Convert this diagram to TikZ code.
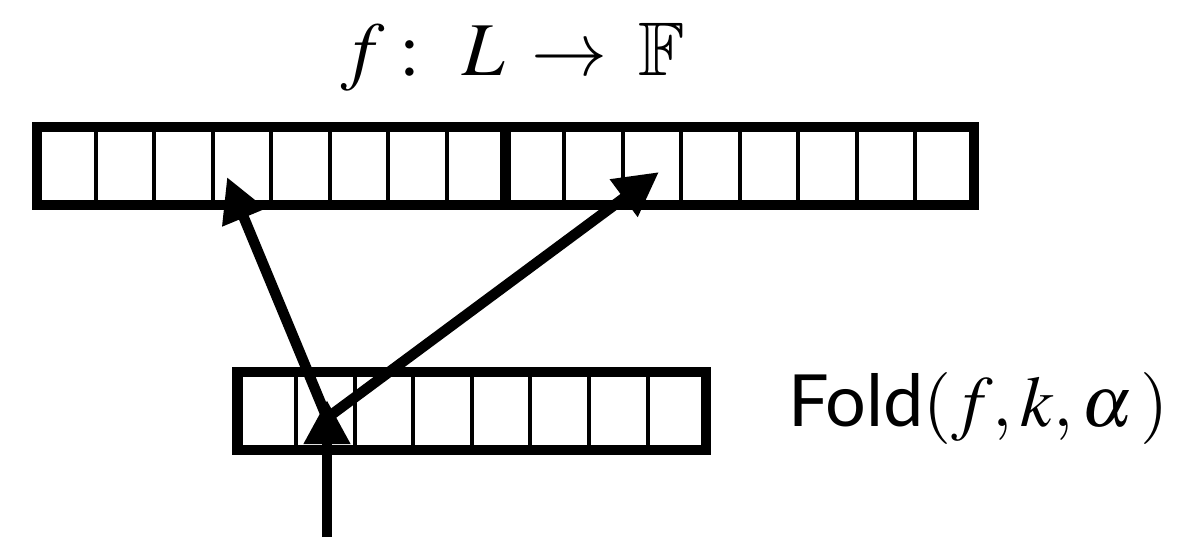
\documentclass[tikz,border=0pt]{standalone}
\usepackage{mathptmx}
\usepackage{amssymb}
\usepackage{graphicx}
\usepackage{fontspec}
\newfontfamily\foldfont{Lato}
\usetikzlibrary{arrows.meta,calc}
\begin{document}
\begin{tikzpicture}[x=0.5pt,y=-0.5pt,
  box/.style={draw, line width=5.25pt, minimum width=234.25pt, minimum height=39pt, inner sep=0pt, outer sep=0pt},
  cellline/.style={draw, line width=2pt},
  link/.style={line width=5.25pt, -{Triangle[length=22pt,width=22pt]}},
  lbl/.style={inner sep=0pt, outer sep=0pt}]
\useasboundingbox (0,0) rectangle (1184,537);
% arrays
\node[box] (L) at (271.25,166) {};
\node[box] (R) at (739.75,166) {};
\node[box] (F) at (471.85,411) {};
\foreach \b in {L,R,F}{
  \foreach \i in {1,...,7}{
    \draw[cellline] ($(\b.north west)!\i/8!(\b.north east)$) -- ($(\b.south west)!\i/8!(\b.south east)$);
  }
}
% labels
\node[lbl, anchor=base] (title) at (513,75) {\scalebox{3.8}{$f\hspace{2pt}{:}\hspace{5.5pt}L\hspace{3.5pt}{\to}\hspace{4pt}\mathbb{F}$}};
\node[lbl, anchor=base west] (foldlbl) at (788,426) {\scalebox{3.6}{{\foldfont Fold}$(f,k,\alpha\mkern2mu)$}};
% connectors
\coordinate (src) at (327,537);
\coordinate (hub) at (327,418);
\coordinate (vtip) at (327,400);
\coordinate (tipL) at (227,177);
\coordinate (tipR) at (659,172);
\draw[link] (src) -- (vtip);
\draw[link] (hub) -- (tipL);
\draw[link] (hub) -- (tipR);
\end{tikzpicture}
\end{document}
